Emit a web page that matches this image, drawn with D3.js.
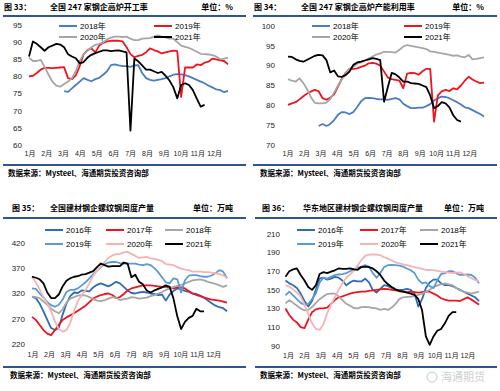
<!DOCTYPE html>
<html>
<head>
<meta charset="utf-8">
<script src="https://cdn.jsdelivr.net/npm/d3@7"></script>
<style>
body { margin: 0; background: #fff; }
</style>
</head>
<body>
<div id="chart"></div>
<script>
// month labels shared by all four charts
var months = ['1月','2月','3月','4月','5月','6月','7月','8月','9月','10月','11月','12月'];

// fig 33 - blast furnace operating rate (%), weekly
var ticks33 = [60, 65, 70, 75, 80, 85, 90, 95];
var op2018Start = 10;
var op2018 = [75.7,75.5,76.5,77.5,78.5,79.5,79,78.6,79.2,79.6,80.5,81.5,83.3,83.5,83.2,83,83,82.8,83.2,83.3,81,79.5,79,78.8,79,79.2,79.5,80,80.5,80.7,80.6,80.4,80,79.5,79,78.5,78,77.3,76.8,76.2,76,75.4,75.8];
var op2019 = [80,80.2,81,82,82.5,82.5,82.4,82.5,82.6,82.7,79.5,79.2,80.3,83,86.5,87.7,88.2,87,89,89.8,90.2,90.4,90.4,90.4,90.2,88.5,86.5,85.6,86,86.3,87,88.2,87.7,87.3,86.7,87,87.3,87.5,87.4,74,82.6,82.6,82.6,83.5,83.3,84,84.3,85.2,85,84.7,84.5,83.5];
var op2020 = [85.5,84.5,84.5,84.8,82.8,80.5,78.5,77.3,77,77.8,78.5,79.5,81.5,84.5,86.5,87.5,88.5,89.2,89.5,90,90.8,91.3,91.6,91.6,91.5,91.6,91,90.6,90.6,91,91.1,91.2,91.6,92,91.6,91.4,91,91,90,89,88.6,88.3,87.8,87.2,86.6,86.5,86.4,86.2,85.8,85,85.2,85.5];
var op2021 = [85.8,90.2,89.5,88.5,87.5,88.5,89,89.5,89.3,88.5,86.5,85.8,85.3,83.8,84.2,85.5,86.3,86.8,87.2,87.6,87.6,87.4,87.5,87.6,87.3,87,64.2,85.2,84.4,83.2,82,82,81.5,81,81.3,80.2,78.8,76.8,73.6,77.5,78,77.5,76,73.5,71.2,71.7];

// fig 34 - blast furnace capacity utilisation (%), weekly
var ticks34 = [70, 75, 80, 85, 90, 95, 100];
var cu2018Start = 9;
var cu2018 = [74.8,75.3,74.8,75.3,76.3,77.6,78.3,78.2,77.8,78.3,79.6,81,81.8,81.9,81.8,81.6,81.5,81.5,81.4,81.6,81.8,81.5,80.4,79.8,79.3,79.3,79.4,79.4,79.8,80.3,81.2,81.8,82.2,82.1,81.8,81.3,80.8,80.2,79.5,79.3,78.8,78.3,77.8,77.2];
var cu2019 = [80.1,80.5,80.8,81.5,82.3,83,83.5,83.9,83.5,81.8,81.4,81.9,82.8,84.7,86.7,88.2,89.2,89.2,89.3,89.7,90,90.6,90.7,90.5,90,88.5,87,86.6,86.4,86.2,84.3,88,88.2,88.1,87.7,88.6,89.2,89.2,75.9,82.5,83.5,83.9,83.6,84.3,84,85,86.2,87.2,86.5,86,85.6,85.7];
var cu2020 = [86.6,86.2,86,86.8,85.6,84,82,80.6,80.5,80.5,80.7,81.6,83.2,85,86.5,88,89.2,89.8,90.5,90.8,91.3,91.8,92.3,92.8,93.1,93.5,93.5,93.4,93.3,94,94.8,95.2,95,94.8,94.6,94.4,94.2,93.6,93.5,93.3,93.1,92.9,92.7,92.5,92.6,92.3,92.1,92.7,91.6,91.7,91.9,92.1];
var cu2021 = [92.3,92.2,91.6,91.2,91,91.5,92,92.5,92.7,92.6,91.4,88.3,88.8,87.3,87.2,87.6,88.5,90.2,90.8,91,91.3,91.6,91.9,91.7,91.4,80.9,84.7,88.2,87.8,87,86,86,85.6,85.5,85.4,85,84.6,82.5,79.3,79.8,80.8,80.5,79.5,77.5,76.3,75.9];

// fig 35 - national rebar weekly output (10k t)
var ticks35 = [220, 270, 320, 370, 420];
var nat2016 = [314,311,300,285,268,252,248,252,278,300,315,322,321,326,325,324,332,337,340,337,334,338,343,340,333,326,321,320,322,323,322,320,319,317,318,306,318,325,330,328,325,323,320,319,316,312,306,301,296,293,291,285];
var nat2017 = [274,268,258,248,241,238,248,258,268,273,277,281,286,291,296,303,310,314,317,319,320,317,311,313,319,326,330,332,334,336,336,336,335,334,333,333,332,330,332,332,330,325,320,317,315,312,310,308,307,306,304,302];
var nat2018 = [314,313,311,304,298,290,285,281,289,302,310,313,316,317,316,313,309,306,305,307,310,313,312,307,309,310,313,312,310,311,312,315,317,320,323,327,330,333,335,337,340,343,346,347,348,346,343,341,339,336,333,336];
var nat2019 = [330,329,320,312,303,297,294,298,308,323,327,327,330,336,342,350,358,365,372,378,381,382,382,380,379,379,379,379,377,376,378,376,370,362,352,342,340,350,348,322,346,355,356,356,354,353,353,356,360,366,363,350];
var nat2020 = [353,342,328,313,300,285,265,250,245,248,262,285,305,317,327,340,355,365,373,382,390,395,397,398,401,402,398,394,390,391,392,389,388,386,384,378,377,376,372,369,367,366,363,363,363,362,362,361,360,358,356,350];
var nat2021 = [353,351,348,340,322,311,311,318,334,345,350,353,354,357,358,361,364,372,379,376,373,374,374,374,381,379,352,357,343,338,326,322,326,329,332,336,333,310,275,250,264,272,276,290,285,285];

// fig 36 - east china rebar weekly output (10k t)
var ticks36 = [90, 110, 130, 150, 170, 190, 210];
var ec2016 = [160,157,155,152,146,138,132,138,150,162,163,161,162,164,163,160,155,158,160,159,159,162,158,150,147,151,155,154,152,150,150,150,151,150,146,132,140,152,158,161,161,157,155,155,154,152,150,148,146,144,142,138];
var ec2017 = [130,123,118,115,110,109,118,126,129,130,130,131,135,139,142,143,144.5,146,147,147.5,148,148,149,149.5,150,150.5,151,150.8,150,149.5,148.5,148,147.5,148,147.5,147,147.5,148,148,146,144,141,139.5,138.5,138.5,138.5,138,140,142,139.5,137,134];
var ec2018 = [135.5,139,136,133,130,128,128.5,131.5,136,140,143,145.5,146,146,143,139,135,133,130.5,130,131.5,131.8,131.5,130.5,130,128.5,129.5,128.5,131,135,140,142,142.5,142.5,143.5,144.5,146,148,150,153,154.5,156,157,156,155,152,149.5,148,147,146,147,148];
var ec2019 = [144,148,144,140,136,134,135,140,146,158,163,162,164,166,166.5,167,168,170,172,174,175,176.5,175,168,163,168,174.5,176.5,176.7,176.5,176,175,173,171,168,161,157,158,154,152,160,167,168,170,170,168,166,166,166.5,166,163,157];
var ec2020 = [155,153.5,150.5,147,143,134,124,114,108,107,113,125,134,142,150,157,163,166.5,170.5,176,182,186.5,187.8,188.2,187.8,187.2,185,183.5,181.5,179.5,178.5,177.5,176.5,175.5,174.5,173.5,172.5,171.5,171.3,171.2,170.5,169.7,169,168.5,168,168.5,168.8,167,164.5,162.5,160.5,159.5];
var ec2021 = [164,170,172,173,166,160,153,150,155,167,169,168,169.5,171,173,172.5,172.5,173,172,171.5,174.5,175,174.5,173,170,166,160,156,153,150.5,149,148,147,146,144.5,140,128,100,91,100,106,108,114,122,126,126];

// colours
var c_blue = '#4a7ebf', c_dblue = '#2e6db4', c_lblue = '#5b9bd5';
var c_red = '#f0141e', c_gray = '#a6a6a6', c_pink = '#f6b3b3', c_black = '#000000';
var c_rule = '#2f5496';

var src = '数据来源：Mysteel、海通期货投资咨询部';

// panel setups, positions in pixels
var panels = [
  { fig: '图 33：', title: '全国 247 家钢企高炉开工率', unit: '单位：%',
    left: 3, right: 246, top: 16, bottom: 165, figX: 4, titleX: 50, headY: 10, srcX: 8,
    xr: [29, 228], yr: [145, 25], yd: [60, 95], ticks: ticks33, yLabelX: 22, xLabelY: 154, mdx: 1,
    series: [
      { name: '2018年', color: c_blue, values: op2018, start: op2018Start, lx: 59, ly: 26 },
      { name: '2019年', color: c_red, values: op2019, start: 1, lx: 154, ly: 26 },
      { name: '2020年', color: c_gray, values: op2020, start: 1, lx: 59, ly: 37 },
      { name: '2021年', color: c_black, values: op2021, start: 1, lx: 154, ly: 37 }
    ] },
  { fig: '图 34：', title: '全国 247 家钢企高炉产能利用率', unit: '单位：%',
    left: 253, right: 497, top: 16, bottom: 165, figX: 254, titleX: 301, headY: 10, srcX: 260,
    xr: [288, 484], yr: [145, 26], yd: [70, 100], ticks: ticks34, yLabelX: 275, xLabelY: 154, mdx: 0,
    series: [
      { name: '2018年', color: c_blue, values: cu2018, start: cu2018Start, lx: 312, ly: 26 },
      { name: '2019年', color: c_red, values: cu2019, start: 1, lx: 404, ly: 26 },
      { name: '2020年', color: c_gray, values: cu2020, start: 1, lx: 312, ly: 37 },
      { name: '2021年', color: c_black, values: cu2021, start: 1, lx: 404, ly: 37 }
    ] },
  { fig: '图 35：', title: '全国建材钢企螺纹钢周度产量', unit: '单位：万吨',
    left: 3, right: 246, top: 218, bottom: 367, figX: 12, titleX: 50, headY: 211, srcX: 10,
    xr: [32, 227], yr: [344.3, 242.7], yd: [220, 420], ticks: ticks35, yLabelX: 25, xLabelY: 355, mdx: 1,
    series: [
      { name: '2016年', color: c_dblue, values: nat2016, start: 1, lx: 45, ly: 230 },
      { name: '2017年', color: c_red, values: nat2017, start: 1, lx: 106, ly: 230 },
      { name: '2018年', color: c_gray, values: nat2018, start: 1, lx: 165, ly: 230 },
      { name: '2019年', color: c_lblue, values: nat2019, start: 1, lx: 45, ly: 244 },
      { name: '2020年', color: c_pink, values: nat2020, start: 1, lx: 106, ly: 244 },
      { name: '2021年', color: c_black, values: nat2021, start: 1, lx: 165, ly: 244 }
    ] },
  { fig: '图 36：', title: '华东地区建材钢企螺纹钢周度产量', unit: '单位：万吨',
    left: 255, right: 497, top: 218, bottom: 367, figX: 262, titleX: 303, headY: 211, srcX: 260,
    xr: [285.5, 479], yr: [345.7, 234], yd: [90, 210], ticks: ticks36, yLabelX: 280, xLabelY: 356, mdx: 3,
    series: [
      { name: '2016年', color: c_dblue, values: ec2016, start: 1, lx: 297, ly: 230 },
      { name: '2017年', color: c_red, values: ec2017, start: 1, lx: 360, ly: 230 },
      { name: '2018年', color: c_gray, values: ec2018, start: 1, lx: 420, ly: 230 },
      { name: '2019年', color: c_lblue, values: ec2019, start: 1, lx: 297, ly: 244 },
      { name: '2020年', color: c_pink, values: ec2020, start: 1, lx: 360, ly: 244 },
      { name: '2021年', color: c_black, values: ec2021, start: 1, lx: 420, ly: 244 }
    ] }
];

// setup SVG
var svg = d3.select('#chart').append('svg')
    .attr('width', 500).attr('height', 391)
    .style('font-family', '"Liberation Sans", Arial, "Noto Sans CJK SC", sans-serif');

var hei = '"Noto Sans CJK SC", sans-serif';

panels.forEach(function(p) {
    var g = svg.append('g');
    var x = d3.scaleLinear().domain([1, 52]).range(p.xr);
    var y = d3.scaleLinear().domain(p.yd).range(p.yr);

    // header
    g.append('text').attr('x', p.figX).attr('y', p.headY)
        .style('font-family', hei).attr('font-weight', 'bold').attr('font-size', 8)
        .text(p.fig);
    g.append('text').attr('x', p.titleX).attr('y', p.headY)
        .style('font-family', hei).attr('font-weight', 'bold').attr('font-size', 8)
        .text(p.title);
    g.append('text').attr('x', p.right - 13).attr('y', p.headY)
        .attr('text-anchor', 'end')
        .style('font-family', hei).attr('font-weight', 'bold').attr('font-size', 8)
        .text(p.unit);

    // blue rules above and below
    g.append('line').attr('x1', p.left).attr('x2', p.right)
        .attr('y1', p.top).attr('y2', p.top)
        .attr('stroke', c_rule).attr('stroke-width', 2);
    g.append('line').attr('x1', p.left).attr('x2', p.right)
        .attr('y1', p.bottom).attr('y2', p.bottom)
        .attr('stroke', c_rule).attr('stroke-width', 2);

    // source
    g.append('text').attr('x', p.srcX).attr('y', p.bottom + 11)
        .style('font-family', hei).attr('font-weight', 'bold').attr('font-size', 7.5)
        .text(src);

    // y tick labels
    g.selectAll('.yt').data(p.ticks).enter().append('text')
        .attr('x', p.yLabelX).attr('y', function(d) { return y(d); })
        .attr('dy', '0.35em').attr('text-anchor', 'end')
        .attr('font-size', 8).attr('fill', '#222')
        .text(function(d) { return d; });

    // month labels
    g.selectAll('.xt').data(months).enter().append('text')
        .attr('x', function(d, i) { return x(1 + i * 4.3) + p.mdx; })
        .attr('y', p.xLabelY).attr('dy', '0.35em').attr('text-anchor', 'middle')
        .attr('font-size', 7).attr('fill', '#222')
        .text(function(d) { return d; });

    // lines
    var line = d3.line()
        .x(function(d) { return x(d.w); })
        .y(function(d) { return y(d.v); });
    p.series.forEach(function(s) {
        var pts = s.values.map(function(v, i) { return { w: s.start + i, v: v }; });
        g.append('path').datum(pts)
            .attr('d', line).attr('fill', 'none')
            .attr('stroke', s.color).attr('stroke-width', 1.8)
            .attr('stroke-linejoin', 'round');
    });

    // legend
    var leg = g.selectAll('.leg').data(p.series).enter().append('g');
    leg.append('line')
        .attr('x1', function(d) { return d.lx; }).attr('x2', function(d) { return d.lx + 18; })
        .attr('y1', function(d) { return d.ly; }).attr('y2', function(d) { return d.ly; })
        .attr('stroke', function(d) { return d.color; }).attr('stroke-width', 2);
    leg.append('text')
        .attr('x', function(d) { return d.lx + 21; }).attr('y', function(d) { return d.ly; })
        .attr('dy', '0.35em').attr('font-size', 8)
        .text(function(d) { return d.name; });
});

// watermark, bottom right
svg.append('circle').attr('cx', 432).attr('cy', 377).attr('r', 5)
    .attr('fill', 'none').attr('stroke', '#c8c8c8').attr('stroke-width', 1);
svg.append('text').attr('x', 441).attr('y', 381)
    .style('font-family', hei).attr('font-size', 11).attr('fill', '#d0d0d0')
    .text('海通期货');
</script>
</body>
</html>
